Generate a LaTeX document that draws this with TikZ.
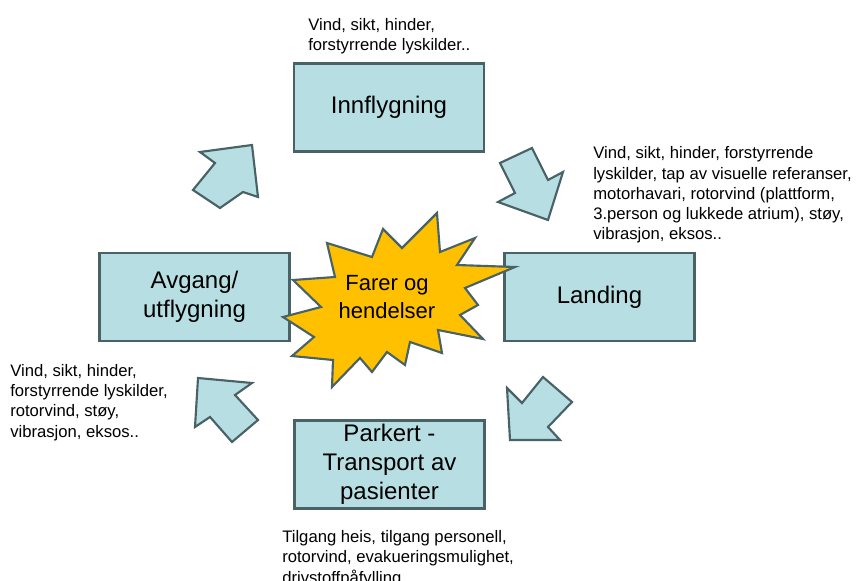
\documentclass[tikz,border=0pt]{standalone}
\usepackage{fontspec}
\setmainfont{Liberation Sans}
\usepackage{xcolor}
\usepackage{tikz}
\definecolor{boxblue}{RGB}{183,222,226}
\definecolor{rimgray}{RGB}{72,98,102}
\definecolor{burst}{RGB}{255,192,0}

\begin{document}
\begin{tikzpicture}[x=0.75pt,y=-0.75pt,
    phase/.style={draw=rimgray,fill=boxblue,line width=1.6pt,minimum width=142.5pt,minimum height=66pt,align=center,inner sep=0pt,font=\fontsize{18}{21.75}\selectfont},
    note/.style={anchor=base west,align=left,inner sep=0pt,font=\fontsize{12.5}{15.2}\selectfont},
    blockarrow/.style={draw=rimgray,fill=boxblue,line width=1.6pt,line join=miter}]
        \useasboundingbox (0,0) rectangle (858,581);
        \node[phase] (inn) at (389,107.5) {Innflygning};
        \node[phase] (landing) at (599.5,297) {Landing};
        \node[phase] (parkert) at (389.5,464.5) {Parkert -\\Transport av\\pasienter};
        \node[phase] (avgang) at (194.5,297) {Avgang/\\utflygning};
        \draw[blockarrow] (252,145) -- (200,152) -- (215,163) -- (193,190) -- (220,208) -- (243,192) -- (258,197) -- cycle;
        \draw[blockarrow] (500,163) -- (532,148) -- (548,180) -- (563,172) -- (548,220) -- (498,202) -- (515,193) -- cycle;
        \draw[blockarrow] (543,377) -- (572,402) -- (548,427) -- (560,440) -- (510,440) -- (507,388) -- (522,403) -- cycle;
        \draw[blockarrow] (198,378) -- (252,383) -- (235,395) -- (258,420) -- (232,442) -- (210,417) -- (195,427) -- cycle;
        \draw[draw=rimgray,fill=burst,line width=1.6pt,line join=miter]
          (437,213) -- (440,252) -- (475,238) -- (457,265) -- (515,267) -- (465,288) -- (478,305)
          -- (460,315) -- (483,339) -- (438,330) -- (442,353) -- (410,342) -- (405,365) -- (387,352)
          -- (372,372) -- (360,358) -- (332,387) -- (333,360) -- (292,356) -- (314,337) -- (283,317)
          -- (321,307) -- (293,280) -- (335,277) -- (327,243) -- (372,257) -- (383,229) -- (402,248) -- cycle;
        \node[align=center,inner sep=0pt,font=\fontsize{16.5}{21}\selectfont] (farer) at (387,297) {Farer og\\hendelser};
        \node[note] (innnote) at (308,51) {Vind, sikt, hinder,\\forstyrrende lyskilder..};
        \node[note] (landingnote) at (593,240) {Vind, sikt, hinder, forstyrrende\\lyskilder, tap av visuelle referanser,\\motorhavari, rotorvind (plattform,\\3.person og lukkede atrium), støy,\\vibrasjon, eksos..};
        \node[note] (avgangnote) at (10,437) {Vind, sikt, hinder,\\forstyrrende lyskilder,\\rotorvind, støy,\\vibrasjon, eksos..};
        \node[note] (parkertnote) at (282,583) {Tilgang heis, tilgang personell,\\rotorvind, evakueringsmulighet,\\drivstoffpåfylling};
      \end{tikzpicture}
\end{document}
